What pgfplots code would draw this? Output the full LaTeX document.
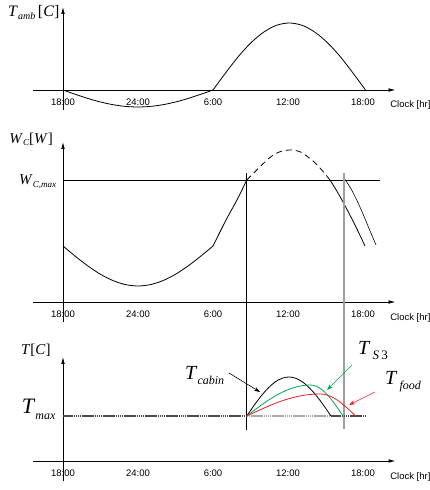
\documentclass[border=0pt]{standalone}
\usepackage{pgfplots}
\pgfplotsset{compat=1.18}
\usetikzlibrary{arrows.meta}
\usepackage{fontspec}
\setmainfont{Liberation Sans}
\newfontfamily\tms{Liberation Serif}
\definecolor{tsgreen}{RGB}{0,166,81}
\definecolor{tfred}{RGB}{237,28,36}
\definecolor{tdark}{RGB}{75,75,75}
\definecolor{tlight}{RGB}{170,170,170}

% one panel = axis crossing at the origin, x in hours after 18:00, y in px
\pgfplotsset{
  panel/.style={
    anchor=origin, x=12.5pt, y=1pt,
    axis lines=middle,
    axis line style={line width=0.7pt, -{Latex[length=7pt,width=3.6pt]}},
    xmin=-2.4, xmax=26.6, ymin=-20,
    xtick={0,6,12,18,24},
    xticklabels={18:00,24:00,6:00,12:00,18:00},
    ytick=\empty,
    major tick length=0pt,
    hide obscured x ticks=false,
    ticklabel style={font=\fontsize{9.5}{10}\selectfont},
    xticklabel style={yshift=-5.5pt},
    clip=false,
  },
  curve/.style={black, line width=0.8pt, smooth},
  tmax/.style={line width=1.7pt, dash pattern=on 1.6pt off 0.5pt},
}

\begin{document}
\begin{tikzpicture}
\useasboundingbox (-63pt,0pt) rectangle (366pt,490pt);

% ambient temperature
\begin{axis}[panel, at={(0pt,400pt)}, ymax=83]
\addplot[curve] coordinates {
  (0,0) (1,-4.4) (2,-8.5) (3,-12.0) (4,-14.7) (5,-16.4) (6,-17)
  (7,-16.4) (8,-14.7) (9,-12.0) (10,-8.5) (11,-4.4) (12,0)};
\addplot[curve] coordinates {
  (12,0) (13.02,17.3) (14.03,33.5) (15.05,47.4) (16.07,58.0) (17.08,64.7)
  (18.1,67) (19.12,64.7) (20.13,58.0) (21.15,47.4) (22.17,33.5)
  (23.18,17.3) (24.2,0)};
\node[anchor=base west, inner sep=0, font=\tms\fontsize{16}{16}\selectfont]
  at (axis cs:-4.4,73) {\textit{T}\raisebox{-3pt}{\fontsize{10}{10}\selectfont\textit{amb}}\,[\textit{C}]};
\node[anchor=west, font=\fontsize{9.5}{10}\selectfont] at (axis cs:25.9,-15) {Clock [hr]};
\end{axis}

% compressor power
\begin{axis}[panel, at={(0pt,188pt)}, ymax=160]
\addplot[curve] coordinates {
  (0,56) (1,45.6) (2,36) (3,27.7) (4,21.4) (5,17.4) (6,16)
  (7,17.4) (8,21.4) (9,27.7) (10,36) (11,45.6) (12,56)};
\addplot[curve] coordinates {(12,56) (13,81) (14,104) (14.7,122)};
\addplot[curve, dash pattern=on 6pt off 4pt] coordinates {
  (14.7,122) (15.5,132) (16.5,144) (17.3,150) (18.16,152) (19,150)
  (20,141) (20.7,132) (21.36,122)};
\addplot[curve] coordinates {(21.36,122) (22,109) (22.7,93) (23.4,76) (24.16,56)};
\addplot[curve, line width=0.6pt] coordinates {
  (22.48,124) (23.0,114) (23.5,102) (24.0,88) (24.5,73) (25.04,57)};
\addplot[black, line width=0.6pt] coordinates {(0,122) (25.36,122)};
% limits running down through the lower panel
\addplot[black, line width=0.6pt] coordinates {(14.7,129) (14.7,-128)};
\addplot[gray!75, line width=1.4pt] coordinates {(22.48,129) (22.48,-127)};
\node[anchor=base west, inner sep=0, font=\tms\fontsize{15}{15}\selectfont]
  at (axis cs:-4.3,158) {\textit{W}\raisebox{-2pt}{\fontsize{9}{9}\selectfont\textit{C}}[\textit{W}]};
\node[anchor=base west, inner sep=0, font=\tms\fontsize{15}{15}\selectfont]
  at (axis cs:-3.52,117) {\textit{W}\raisebox{-3pt}{\fontsize{9}{9}\selectfont\textit{C,max}}};
\node[anchor=west, font=\fontsize{9.5}{10}\selectfont] at (axis cs:25.9,-16) {Clock [hr]};
\end{axis}

% temperatures
\begin{axis}[panel, at={(0pt,29pt)}, ymax=104]
\addplot[tmax, tdark] coordinates {(0,45) (14.7,45)};
\addplot[tmax, tlight] coordinates {(14.7,45) (21.44,45)};
\addplot[tmax, tdark] coordinates {(21.44,45) (24.16,45)};
\addplot[curve] coordinates {
  (14.70,45) (15.26,55.1) (15.82,64.5) (16.39,72.6) (16.95,78.8) (17.51,82.7)
  (18.07,84) (18.63,82.7) (19.19,78.8) (19.75,72.6) (20.32,64.5) (20.88,55.1)
  (21.44,45)};
\addplot[curve, tsgreen] coordinates {
  (14.7,45) (15.55,53.0) (16.4,60.5) (17.25,66.9) (18.1,71.8) (18.95,74.9)
  (19.8,76) (20.23,74.9) (20.67,71.8) (21.1,66.9) (21.53,60.5) (21.97,53.0)
  (22.4,45)};
\addplot[curve, tfred] coordinates {
  (14.7,45) (15.68,50.7) (16.65,56) (17.63,60.6) (18.61,64.1) (19.58,66.3)
  (20.56,67) (21.03,66.3) (21.51,64.1) (21.98,60.6) (22.45,56) (22.93,50.7)
  (23.4,45)};
\draw[-{Stealth[length=6pt,width=4pt]}, black, line width=0.6pt] (axis cs:13.28,88) -- (axis cs:15.76,69);
\draw[-{Stealth[length=6pt,width=4pt]}, tsgreen, line width=0.6pt] (axis cs:23.12,96) -- (axis cs:21.12,71);
\draw[-{Stealth[length=6pt,width=4pt]}, tfred, line width=0.6pt] (axis cs:24.96,69) -- (axis cs:22.88,56);
\node[anchor=base west, inner sep=0, font=\tms\fontsize{15}{15}\selectfont]
  at (axis cs:-3.36,106) {\textit{T}[\textit{C}]};
\node[anchor=base west, inner sep=0, font=\tms\fontsize{22}{22}\selectfont]
  at (axis cs:-3.3,47) {\textit{T}\raisebox{-6pt}{\fontsize{12}{12}\selectfont\textit{max}}};
\node[anchor=base west, inner sep=0, font=\tms\fontsize{20}{20}\selectfont]
  at (axis cs:9.76,81) {\textit{T}\raisebox{-5pt}{\fontsize{12}{12}\selectfont\textit{cabin}}};
\node[anchor=base west, inner sep=0, font=\tms\fontsize{20}{20}\selectfont]
  at (axis cs:23.6,106) {\textit{T}\raisebox{-5pt}{\fontsize{13}{13}\selectfont\,\textit{S}\,3}};
\node[anchor=base west, inner sep=0, font=\tms\fontsize{20}{20}\selectfont]
  at (axis cs:25.76,76) {\textit{T}\raisebox{-5pt}{\fontsize{12}{12}\selectfont\,\textit{food}}};
\node[anchor=west, font=\fontsize{9.5}{10}\selectfont] at (axis cs:25.9,-16) {Clock [hr]};
\end{axis}
\end{tikzpicture}
\end{document}
